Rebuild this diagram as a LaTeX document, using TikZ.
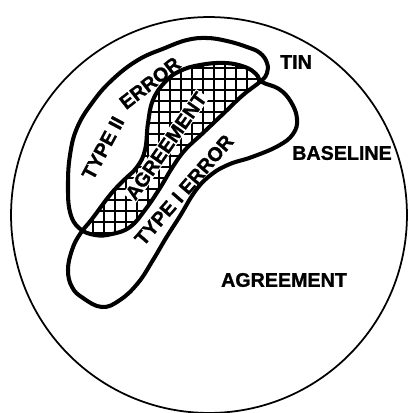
\documentclass[tikz,border=0pt]{standalone}
\usepackage{fontspec}
\setmainfont{Liberation Sans}
\newfontfamily\lblfont{Liberation Sans Bold}[FakeBold=1.1]
\def\tinpath{plot[smooth cycle,tension=0.7] coordinates {(79,228) (70,212) (68,185) (70,155) (77,128) (92,103) (112,80) (138,60) (165,48) (187,40) (207,38) (227,41) (247,47) (260,53) (267,63) (267,73) (261,81) (243,95) (223,114) (203,133) (185,150) (172,168) (160,188) (145,210) (130,227) (112,234) (95,235)}}
\def\basepath{plot[smooth cycle,tension=0.7] coordinates {(262,82) (279,89) (291,102) (297,119) (293,134) (278,146) (252,157) (230,164) (212,174) (196,190) (180,216) (166,238) (153,260) (138,283) (120,300) (102,307) (83,298) (72,287) (68,270) (72,250) (80,234) (92,219) (110,195) (123,181) (137,167) (145,150) (148,123) (153,100) (165,82) (180,71) (200,65) (225,63) (245,67) (256,74)}}
\begin{document}
\begin{tikzpicture}[x=0.02cm,y=-0.02cm,
  outline/.style={line width=2.3pt,line join=round},
  hatch/.style={line width=1pt},
  lbl/.style={font=\lblfont\fontsize{11.2}{13}\selectfont,inner sep=0pt}]
\useasboundingbox (0,0) rectangle (409,413);
\draw[line width=1pt] (209,215) circle (3.96cm);
\begin{scope}
\clip \tinpath;
\clip \basepath;
\foreach \k in {0,...,22} {
  \draw[hatch] (60,{35+11*\k}) -- (300,{35+11*\k});
  \draw[hatch] ({60+11*\k},30) -- ({60+11*\k},260);
}
\end{scope}
\draw[outline] \tinpath;
\draw[outline] \basepath;
\node[lbl] (tin) at (296,62) {TIN};
\node[lbl] (baseline) at (342,153) {BASELINE};
\node[lbl] (agree) at (284,280) {AGREEMENT};
\node[lbl,rotate=62] (typetwo) at (103,148) {TYPE II};
\node[lbl,rotate=38] (errtwo) at (150,83) {ERROR};
\node[lbl,rotate=55,fill=white,inner sep=0.6pt] (overlap) at (166,146) {AGREEMENT};
\node[lbl,rotate=49] (typeone) at (184,190) {TYPE I ERROR};
\end{tikzpicture}
\end{document}
